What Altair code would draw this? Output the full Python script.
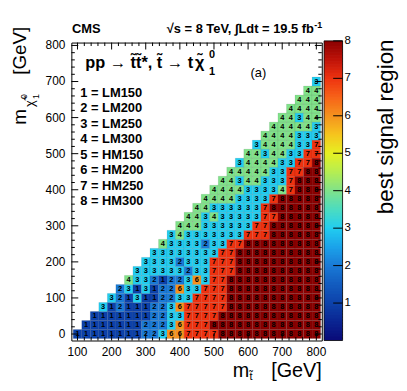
import altair as alt
import numpy as np
import pandas as pd

FONT = "Liberation Sans"

# ---------------- data ----------------
stop_mass = [100, 125, 150, 175, 200, 225, 250, 275, 300, 325, 350, 375, 400, 425, 450,
             475, 500, 525, 550, 575, 600, 625, 650, 675, 700, 725, 750, 775, 800]
lsp_mass = [0, 25, 50, 75, 100, 125, 150, 175, 200, 225, 250, 275, 300, 325, 350,
            375, 400, 425, 450, 475, 500, 525, 550, 575, 600, 625, 650, 675, 700]

# best signal region per LSP-mass row; row j starts at stop_mass[j]
best_region = [
    [1, 1, 1, 1, 1, 1, 1, 1, 2, 2, 3, 6, 6, 7, 7, 7, 7, 8, 8, 8, 8, 8, 8, 8, 8, 8, 8, 8, 8],
    [1, 1, 1, 1, 1, 1, 1, 2, 2, 2, 3, 6, 7, 7, 7, 8, 8, 8, 8, 8, 8, 8, 8, 8, 8, 8, 8, 8],
    [1, 1, 1, 1, 1, 1, 1, 2, 2, 3, 3, 7, 7, 7, 7, 8, 8, 8, 8, 8, 8, 8, 8, 8, 8, 8, 8],
    [3, 1, 2, 1, 1, 1, 2, 2, 3, 6, 7, 7, 7, 7, 7, 8, 8, 8, 8, 8, 8, 8, 8, 8, 8, 8],
    [3, 2, 1, 3, 1, 1, 2, 2, 3, 3, 7, 7, 7, 7, 8, 8, 8, 8, 8, 8, 8, 8, 8, 8, 8],
    [2, 3, 1, 3, 1, 2, 2, 6, 3, 3, 7, 7, 7, 8, 8, 8, 8, 8, 8, 8, 8, 8, 8, 8],
    [4, 3, 3, 2, 1, 2, 2, 3, 6, 3, 7, 7, 8, 8, 8, 8, 8, 8, 8, 8, 8, 8, 8],
    [3, 3, 3, 3, 3, 3, 2, 3, 3, 7, 7, 7, 8, 8, 8, 8, 8, 8, 8, 8, 8, 8],
    [3, 3, 3, 3, 2, 3, 3, 3, 7, 7, 7, 8, 8, 8, 8, 8, 8, 8, 8, 8, 8],
    [3, 3, 3, 3, 3, 3, 3, 3, 7, 7, 8, 8, 8, 8, 8, 8, 8, 8, 8, 8],
    [4, 3, 3, 3, 3, 2, 3, 3, 7, 7, 8, 8, 8, 8, 8, 8, 8, 8, 8],
    [3, 4, 3, 3, 3, 3, 3, 3, 3, 7, 7, 7, 8, 8, 8, 8, 8, 8],
    [4, 4, 4, 3, 3, 3, 3, 3, 3, 7, 7, 8, 8, 8, 8, 8, 8],
    [4, 4, 3, 4, 3, 3, 3, 3, 3, 7, 7, 8, 8, 8, 8, 8],
    [4, 4, 3, 3, 3, 3, 3, 3, 7, 8, 8, 8, 8, 8, 8],
    [4, 4, 4, 4, 3, 3, 3, 3, 7, 8, 8, 8, 8, 8],
    [4, 4, 4, 4, 3, 3, 3, 3, 4, 7, 8, 8, 8],
    [4, 4, 3, 4, 4, 3, 3, 3, 7, 8, 8, 8],
    [4, 4, 4, 4, 4, 3, 3, 7, 7, 8, 8],
    [3, 4, 4, 4, 4, 3, 3, 7, 7, 8],
    [4, 4, 3, 4, 4, 3, 3, 7, 7],
    [3, 4, 4, 4, 4, 3, 3, 7],
    [4, 4, 4, 4, 3, 3, 3],
    [4, 4, 4, 4, 4, 3],
    [4, 4, 3, 4, 4],
    [4, 4, 4, 4],
    [4, 4, 4],
    [4, 4],
    [3],
]

region_names = ["1 = LM150", "2 = LM200", "3 = LM250", "4 = LM300",
                "5 = HM150", "6 = HM200", "7 = HM250", "8 = HM300"]

palette_z = [0, 0.5, 1, 1.5, 2, 2.5, 3, 3.5, 4, 4.5, 5, 5.5, 6, 6.5, 7, 7.5, 8]
palette_colors = ["#0a0a78", "#0b2592", "#0d42aa", "#135cbf", "#1a7ad6", "#1ba3ea",
                  "#22cdf0", "#4cdcc0", "#80e28a", "#b6ee52", "#e6f022", "#f6c41e",
                  "#f5921e", "#f76218", "#ee3210", "#be1208", "#8a0000"]

x_major = [100, 200, 300, 400, 500, 600, 700, 800]
x_minor = [120, 140, 160, 180, 220, 240, 260, 280, 320, 340, 360, 380, 420, 440, 460, 480,
           520, 540, 560, 580, 620, 640, 660, 680, 720, 740, 760, 780]
y_major = [0, 100, 200, 300, 400, 500, 600, 700, 800]
y_minor = [20, 40, 60, 80, 120, 140, 160, 180, 220, 240, 260, 280, 320, 340, 360, 380,
           420, 440, 460, 480, 520, 540, 560, 580, 620, 640, 660, 680, 720, 740, 760, 780]
cb_values = [1, 2, 3, 4, 5, 6, 7, 8]

# ---------------- geometry ----------------
PW, PH = 253, 301
X_DOM = [82, 816]
Y_DOM = [-18, 808]
Z_DOM = [0, 7.955]
CBX0, CBX1 = 255.3, 274.0

recs = []
for j, row in enumerate(best_region):
    for k, v in enumerate(row):
        xm = stop_mass[j + k]
        ym = lsp_mass[j]
        recs.append({"x": xm, "y": ym, "v": v,
                     "x0": xm - 12.5, "x1": xm + 12.5, "y0": ym - 12.5, "y1": ym + 12.5})
cells = pd.DataFrame(recs)

xs = alt.Scale(domain=X_DOM, nice=False, zero=False)
ys = alt.Scale(domain=Y_DOM, nice=False, zero=False)
zs = alt.Scale(domain=Z_DOM, nice=False, zero=False)
cs = alt.Scale(domain=palette_z, range=palette_colors, interpolate="rgb")

rects = alt.Chart(cells).mark_rect(stroke="black", strokeWidth=0.4, strokeOpacity=0.18).encode(
    x=alt.X("x0:Q", scale=xs, axis=None),
    x2="x1:Q",
    y=alt.Y("y0:Q", scale=ys, axis=None),
    y2="y1:Q",
    color=alt.Color("v:Q", scale=cs, legend=None),
)

nums = alt.Chart(cells).mark_text(font=FONT, fontSize=7.5, fontWeight="bold", color="black",
                                  baseline="middle", align="center").encode(
    x=alt.X("x:Q", scale=xs, axis=None),
    y=alt.Y("y:Q", scale=ys, axis=None),
    text=alt.Text("v:Q", format="d"),
)

# axis tick labels (ROOT style, drawn through the scales)
xlab = alt.Chart(pd.DataFrame({"v": x_major})).mark_text(
    font=FONT, fontSize=12, align="center", baseline="middle", color="black").encode(
    x=alt.X("v:Q", scale=xs, axis=None), y=alt.value(PH + 11.5),
    text=alt.Text("v:Q", format="d"))
ylab = alt.Chart(pd.DataFrame({"v": y_major})).mark_text(
    font=FONT, fontSize=12, align="right", baseline="middle", color="black").encode(
    y=alt.Y("v:Q", scale=ys, axis=None), x=alt.value(-6),
    text=alt.Text("v:Q", format="d"))


def xticks(vals, length, top):
    df = pd.DataFrame({"v": vals})
    if top:
        yy, yy2 = 0, length
    else:
        yy, yy2 = PH, PH - length
    return alt.Chart(df).mark_rule(color="black", strokeWidth=1).encode(
        x=alt.X("v:Q", scale=xs, axis=None), y=alt.value(yy), y2=alt.value(yy2))


def yticks(vals, length, right):
    df = pd.DataFrame({"v": vals})
    if right:
        xx, xx2 = PW, PW - length
    else:
        xx, xx2 = 0, length
    return alt.Chart(df).mark_rule(color="black", strokeWidth=1).encode(
        y=alt.Y("v:Q", scale=ys, axis=None), x=alt.value(xx), x2=alt.value(xx2))


tick_layers = [
    xticks(x_major, 7, False), xticks(x_minor, 3.5, False),
    xticks(x_major, 7, True), xticks(x_minor, 3.5, True),
    yticks(y_major, 7, False), yticks(y_minor, 3.5, False),
    yticks(y_major, 7, True), yticks(y_minor, 3.5, True),
]


def label(txt, x, y, size, weight="normal", align="left", baseline="alphabetic", angle=0):
    return alt.Chart(pd.DataFrame({"t": [txt]})).mark_text(
        font=FONT, fontSize=size, fontWeight=weight, align=align, baseline=baseline,
        angle=angle, color="black").encode(text="t:N", x=alt.value(x), y=alt.value(y))


T = "t\u0303"
CHI = "\u03c7\u0303"
annots = [
    label("CMS", 0.7, -9.3, 13, "bold"),
    label("\u221as = 8 TeV, \u222bLdt = 19.5 fb", 245, -9.3, 13, "bold", align="right"),
    label("-1", 245.5, -14.5, 9, "bold"),
    label("pp \u2192 " + T + T + "*, " + T + " \u2192 t", 14, 25.5, 16.5, "bold"),
    label(CHI, 125, 25.5, 16.5, "bold"),
    label("0", 139, 16, 11, "bold"),
    label("1", 139, 33, 11, "bold"),
    label("(a)", 189, 31, 13, baseline="middle", align="center"),
    # x title
    label("m", 163, 338, 20),
    label(T, 180, 340.5, 11),
    label("[GeV]", 253, 338, 20, align="right"),
    # y title (rotated)
    label("m", -46, 83, 19, angle=270),
    label(CHI, -38, 65, 13, angle=270),
    label("0", -45, 57, 9, angle=270),
    label("1", -33, 57, 9, angle=270),
    label("[GeV]", -46, -16, 19, align="right", angle=270),
    # colorbar title
    label("best signal region", 324.5, -3, 22.5, align="right", angle=270),
]
legend_y = [51, 66.6, 82.2, 97.8, 113.4, 129, 144.6, 160.2]
for name, yy in zip(region_names, legend_y):
    annots.append(label(name, 9, yy, 13, "bold", baseline="middle"))

main = alt.layer(rects, nums, xlab, ylab, *tick_layers, *annots)

# ---------------- colour bar ----------------
z0 = np.round(np.arange(0, 8, 0.04), 4)
cbdf = pd.DataFrame({"z0": z0, "z1": np.minimum(z0 + 0.06, 8.0), "zc": z0 + 0.02})
cb_rect = alt.Chart(cbdf).mark_rect().encode(
    x=alt.value(CBX0), x2=alt.value(CBX1),
    y=alt.Y("z0:Q", scale=zs, axis=None), y2="z1:Q",
    color=alt.Color("zc:Q", scale=cs, legend=None),
)
cb_frame = alt.Chart(pd.DataFrame({"a": [0], "b": [8]})).mark_rect(
    fillOpacity=0, stroke="black", strokeWidth=0.8).encode(
    x=alt.value(CBX0), x2=alt.value(CBX1),
    y=alt.Y("a:Q", scale=zs, axis=None), y2="b:Q",
)
cbv = pd.DataFrame({"z": cb_values})
cb_ticks = alt.Chart(cbv).mark_rule(color="black", strokeWidth=1).encode(
    y=alt.Y("z:Q", scale=zs, axis=None), x=alt.value(CBX1 - 9.5), x2=alt.value(CBX1))
cb_labels = alt.Chart(cbv).mark_text(font=FONT, fontSize=11.5, align="left", baseline="middle",
                                     color="black").encode(
    y=alt.Y("z:Q", scale=zs, axis=None), x=alt.value(CBX1 + 2),
    text=alt.Text("z:Q", format="d"))

cbar = alt.layer(cb_rect, cb_frame, cb_ticks, cb_labels)

chart = alt.layer(main, cbar).resolve_scale(y="independent").properties(
    width=PW, height=PH,
    padding={"left": 64, "top": 33, "right": 78, "bottom": 41},
    autosize=alt.AutoSizeParams(type="none"),
    background="white",
).configure_view(stroke="black", strokeWidth=1)

chart.save("out.html", embed_options={"renderer": "svg", "actions": False})
